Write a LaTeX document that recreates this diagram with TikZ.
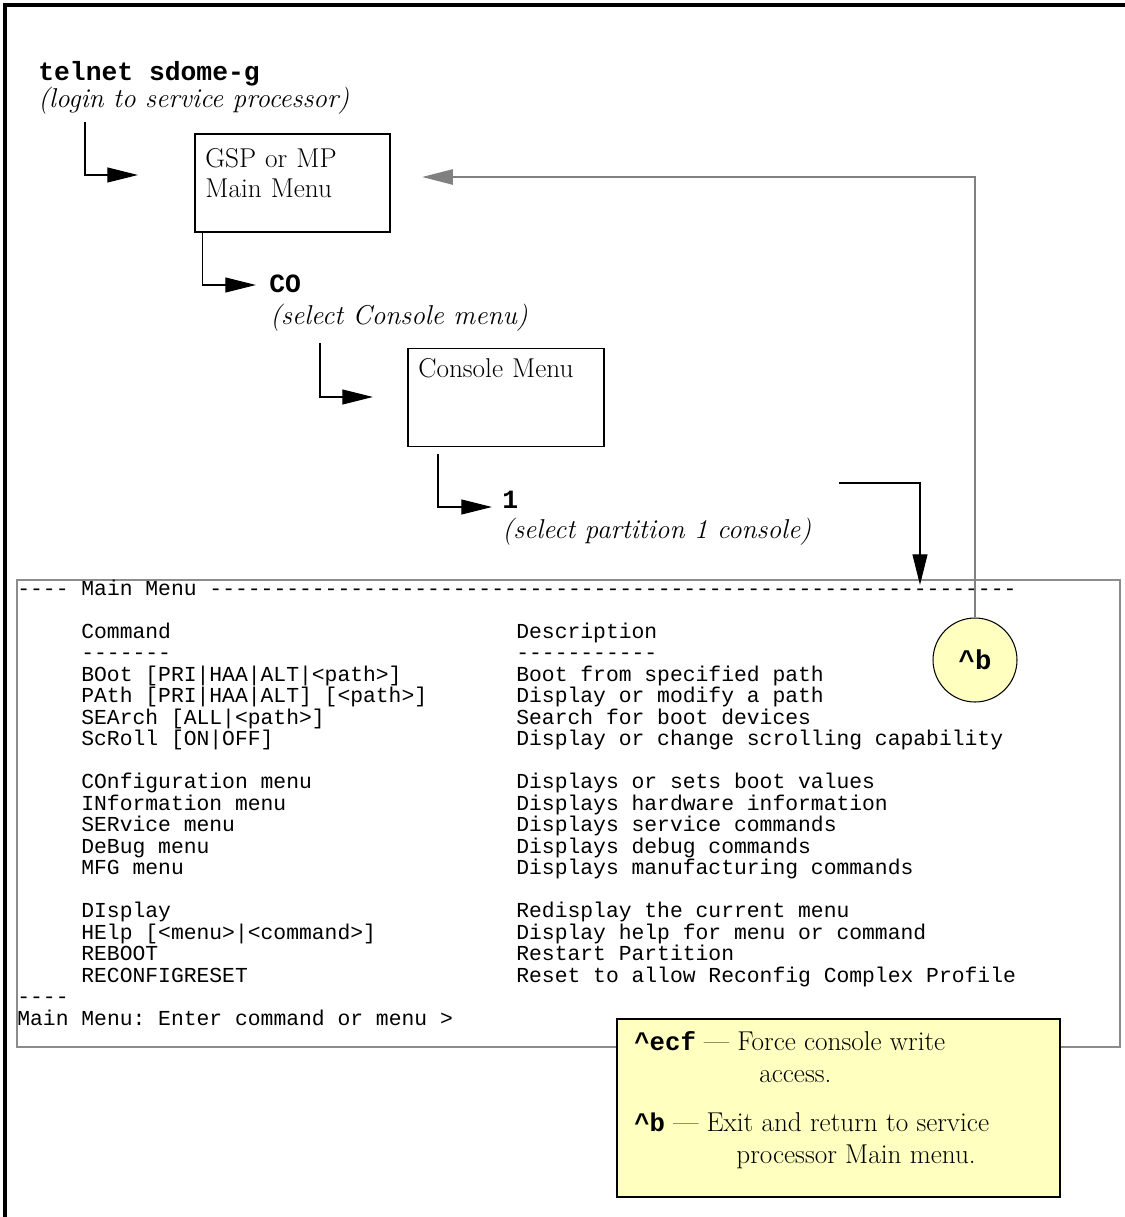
\documentclass[tikz,border=0pt]{standalone}
\usepackage{fontspec}
\setmonofont{Liberation Mono}
\usetikzlibrary{arrows.meta}
\definecolor{noteyellow}{RGB}{255,255,192}
\definecolor{retgray}{RGB}{128,128,128}
\definecolor{screengray}{RGB}{140,140,140}
\newcommand\screenfont{\fontsize{12.15}{12.24}\selectfont\ttfamily\lineskiplimit=-20pt\relax}
\newcommand\fixedspaces{\spaceskip=0pt\xspaceskip=0pt\relax}
\newcommand\notekeyfont{\fontsize{14.6}{17}\selectfont\ttfamily\bfseries}

\begin{document}
\begin{tikzpicture}[
  x=0.02cm, y=-0.02cm,
  >={Triangle[length=17.5pt,width=8.5pt]},
  flow/.style={->, line width=0.7pt, black},
  retflow/.style={->, line width=1.4pt, retgray},
  menubox/.style={rectangle, draw, line width=0.7pt, inner sep=0pt, fill=white},
  boxtext/.style={anchor=base west, inner sep=0pt, text width=4cm, align=left,
    font=\fontsize{15.5}{17.1}\selectfont},
  cmdtext/.style={anchor=base west, inner sep=0pt,
    font=\fontsize{15}{15}\selectfont\ttfamily\bfseries},
  hinttext/.style={anchor=base west, inner sep=0pt,
    font=\fontsize{15.5}{17}\selectfont\itshape},
  screentext/.style={anchor=base west, inner sep=0pt, text width=11cm,
    font=\screenfont, execute at begin node=\fixedspaces},
  notetext/.style={anchor=base west, inner sep=0pt,
    font=\fontsize{15.5}{17}\selectfont}
]
\useasboundingbox (0,0) rectangle (1125,1217);

% =====================================================================
% Frame
% =====================================================================
\draw[line width=2.3pt] (5,1217) -- (5,5) -- (1125,5);

% =====================================================================
% Login and service processor menus
% =====================================================================
\node[cmdtext] (telnet) at (38,80) {telnet sdome-g};
\node[hinttext] (login) at (38,107) {(login to service processor)};

\node[menubox, minimum width=3.9cm, minimum height=1.96cm] (gsp) at (292.5,183) {};
\node[boxtext] (gsptext) at (205,167) {GSP or MP\\Main Menu};

\node[cmdtext] (co) at (269,292) {CO};
\node[hinttext] (selco) at (270,324) {(select Console menu)};

\node[menubox, minimum width=3.92cm, minimum height=1.96cm] (conmenu) at (506,397.5) {};
\node[boxtext] (context) at (418,377) {Console Menu};

\node[cmdtext] (one) at (502,508) {1};
\node[hinttext] (selpart) at (502,538) {(select partition 1 console)};

% =====================================================================
% Console screen
% =====================================================================
\node[rectangle, draw=screengray, line width=1.4pt, minimum width=22.06cm,
  minimum height=9.34cm, inner sep=0pt] (screen) at (568.5,813.5) {};

\node[screentext, text width=21cm] (menuhead) at (17,595)
  {---- Main Menu ---------------------------------------------------------------};
\node[screentext] (cmdcol) at (81,638)
  {Command\\-------\\BOot [PRI|HAA|ALT|<path>]\\PAth [PRI|HAA|ALT] [<path>]\\%
   SEArch [ALL|<path>]\\ScRoll [ON|OFF]\\~\\COnfiguration menu\\INformation menu\\%
   SERvice menu\\DeBug menu\\MFG menu\\~\\DIsplay\\HElp [<menu>|<command>]\\%
   REBOOT\\RECONFIGRESET};
\node[screentext] (desccol) at (516,638)
  {Description\\-----------\\Boot from specified path\\Display or modify a path\\%
   Search for boot devices\\Display or change scrolling capability\\~\\%
   Displays or sets boot values\\Displays hardware information\\%
   Displays service commands\\Displays debug commands\\Displays manufacturing commands\\~\\%
   Redisplay the current menu\\Display help for menu or command\\Restart Partition\\%
   Reset to allow Reconfig Complex Profile};
\node[screentext] (prompt) at (17,1003.5) {----\\Main Menu: Enter command or menu >};

\node[circle, draw, line width=0.6pt, fill=noteyellow, minimum size=1.68cm, inner sep=0pt,
  font=\fontsize{15.5}{17}\selectfont\ttfamily\bfseries] (ctrlb) at (975,660)
  {\textasciicircum b};

% =====================================================================
% Note
% =====================================================================
\node[rectangle, draw, line width=0.7pt, fill=noteyellow, minimum width=8.86cm,
  minimum height=3.56cm, inner sep=0pt] (note) at (838.5,1108) {};
\node[notetext] (ecf) at (634,1050)
  {{\notekeyfont\textasciicircum ecf} --- Force console write};
\node[notetext] (ecfmore) at (759,1082) {access.};
\node[notetext] (exit) at (634,1131)
  {{\notekeyfont\textasciicircum b} --- Exit and return to service};
\node[notetext] (exitmore) at (736,1163) {processor Main menu.};

% =====================================================================
% Flows
% =====================================================================
\coordinate (loginfoot) at (85,122);
\coordinate (gspin) at (138,175);
\draw[flow] (loginfoot) |- (gspin);

\coordinate (coin) at (256,285);
\draw[flow] ([xshift=0.16cm]gsp.south west) |- (coin);

\coordinate (selcofoot) at (320,343);
\coordinate (conin) at (373,397);
\draw[flow] (selcofoot) |- (conin);

\coordinate (confoot) at (438,454);
\coordinate (onein) at (492,507);
\draw[flow] (confoot) |- (onein);

\coordinate (selpartend) at (839,483);
\coordinate (screenin) at (920,585);
\draw[flow] (selpartend) -| (screenin);

% ^b returns to the service processor menu
\coordinate (gspret) at (422,177);
\draw[retflow] (ctrlb.north) |- (gspret);

\end{tikzpicture}
\end{document}
